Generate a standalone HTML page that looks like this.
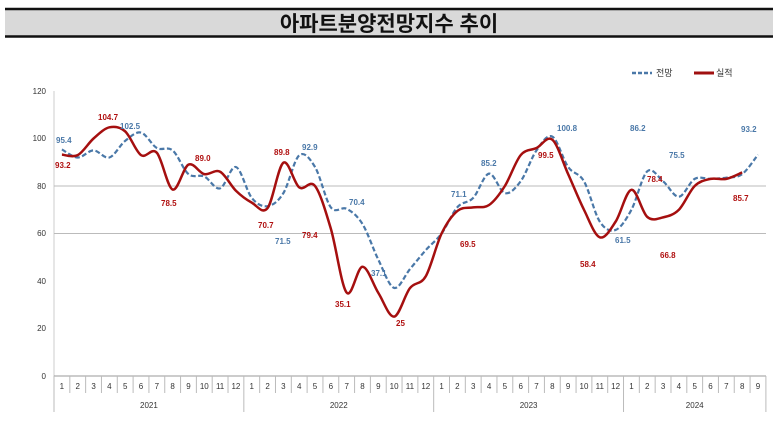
<!DOCTYPE html>
<html><head><meta charset="utf-8"><style>
body{margin:0;background:#fff;width:778px;height:418px;overflow:hidden;font-family:"Liberation Sans","Noto Sans CJK KR",sans-serif}
</style></head><body>
<svg id="s" width="778" height="418" xmlns="http://www.w3.org/2000/svg" font-family="Liberation Sans, Noto Sans CJK KR, sans-serif">
<rect x="5" y="9" width="768" height="27" fill="#d9d9d9"/>
<line x1="5" y1="9" x2="773" y2="9" stroke="#111" stroke-width="2.5"/>
<line x1="5" y1="36.5" x2="773" y2="36.5" stroke="#111" stroke-width="2.5"/>
<text x="389" y="31" text-anchor="middle" font-size="21" font-weight="bold" fill="#111">아파트분양전망지수 추이</text>
<g font-size="8" fill="#333" text-anchor="end">
<text x="46" y="94">120</text><text x="46" y="141">100</text><text x="46" y="189">80</text><text x="46" y="236">60</text><text x="46" y="284">40</text><text x="46" y="331">20</text><text x="46" y="379">0</text>
</g>
<line x1="54" y1="91" x2="54" y2="376" stroke="#ccc"/>
<line x1="54" y1="186" x2="766" y2="186" stroke="#bbb"/>
<line x1="54" y1="233.5" x2="766" y2="233.5" stroke="#bbb"/>
<line x1="54" y1="376" x2="766" y2="376" stroke="#999"/>
<g id="ax"></g>
<line x1="632" y1="73" x2="652" y2="73" stroke="#4a78a8" stroke-width="2.5" stroke-dasharray="4,2"/>
<text x="656" y="76" font-size="9" fill="#333">전망</text>
<line x1="694" y1="73" x2="714" y2="73" stroke="#a01010" stroke-width="3"/>
<text x="716" y="76" font-size="9" fill="#333">실적</text>
<path id="b" fill="none" stroke="#4a78a8" stroke-width="2.2" stroke-dasharray="5,2.5"/>
<path id="r" fill="none" stroke="#a50f0f" stroke-width="2.5"/>
<g font-size="8" font-weight="bold" fill="#4a78a8">
<text x="56" y="143">95.4</text><text x="120" y="129">102.5</text><text x="302" y="150">92.9</text><text x="275" y="244">71.5</text><text x="349" y="205">70.4</text><text x="371" y="276">37.1</text><text x="451" y="197">71.1</text><text x="481" y="166">85.2</text><text x="557" y="131">100.8</text><text x="615" y="243">61.5</text><text x="630" y="131">86.2</text><text x="669" y="158">75.5</text><text x="741" y="132">93.2</text>
</g>
<g font-size="8" font-weight="bold" fill="#b01010">
<text x="55" y="168">93.2</text><text x="98" y="120">104.7</text><text x="161" y="206">78.5</text><text x="195" y="161">89.0</text><text x="258" y="228">70.7</text><text x="274" y="155">89.8</text><text x="302" y="238">79.4</text><text x="335" y="307">35.1</text><text x="396" y="326">25</text><text x="460" y="247">69.5</text><text x="538" y="158">99.5</text><text x="580" y="267">58.4</text><text x="647" y="182">78.4</text><text x="660" y="258">66.8</text><text x="733" y="201">85.7</text>
</g>
</svg>
<script>
var W=15.82,X0=54;function cx(i){return X0+(i+0.5)*W}function cy(v){return 376-v*2.375}
var B=[95.4,92,95,92,99,102.5,96,95,85,84,79,88, 75,71.5,77,92.9,88,71,70.4,64,49,37.1,45,53, 60,71.1,75,85.2,77,82,95,100.8,88,82,65,61.5, 70,86.2,82,75.5,83,83,83.5,85,93.2];
var R=[93.2,93,100,104.7,103,93,94,78.5,89,85,86,78, 73,70.7,89.8,79.4,80,62,35.1,46,35,25,37,42, 60,69.5,71,72,80,93,96,99.5,85,70,58.4,65, 78.4,67,66.8,70,80,83,83,85.7];
function path(a){var p=a.map(function(v,i){return[cx(i),cy(v)]});var d="M"+p[0][0]+","+p[0][1];
for(var i=0;i<p.length-1;i++){var p0=p[Math.max(i-1,0)],p1=p[i],p2=p[i+1],p3=p[Math.min(i+2,p.length-1)];
d+=" C"+(p1[0]+(p2[0]-p0[0])/6)+","+(p1[1]+(p2[1]-p0[1])/6)+" "+(p2[0]-(p3[0]-p1[0])/6)+","+(p2[1]-(p3[1]-p1[1])/6)+" "+p2[0]+","+p2[1];}return d;}
document.getElementById("b").setAttribute("d",path(B));
document.getElementById("r").setAttribute("d",path(R));
var g="",yrs=["2021","2022","2023","2024"];
for(var i=0;i<=45;i++){var x=X0+i*W;var big=(i%12==0)||i==45;g+='<line x1="'+x+'" y1="376" x2="'+x+'" y2="'+(big?412:393)+'" stroke="#bbb"/>';
if(i<45)g+='<text x="'+cx(i)+'" y="389" font-size="8" text-anchor="middle" fill="#333">'+(i%12+1)+'</text>';}
for(var k=0;k<4;k++){var s=X0+k*12*W,e=Math.min(X0+(k+1)*12*W,X0+45*W);g+='<text x="'+((s+e)/2)+'" y="408" font-size="8" text-anchor="middle" fill="#333">'+yrs[k]+'</text>';}
document.getElementById("ax").innerHTML=g;
</script>
</body></html>
